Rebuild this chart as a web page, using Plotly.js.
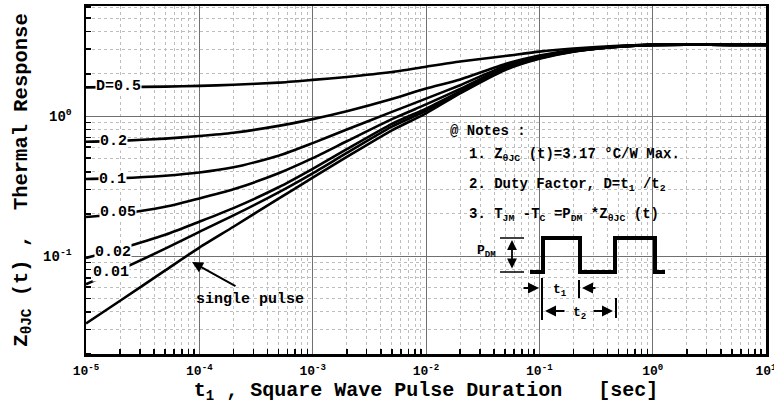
<!DOCTYPE html>
<html>
<head>
<meta charset="utf-8">
<script src="https://cdn.plot.ly/plotly-3.0.1.min.js"></script>
<style>html,body{margin:0;padding:0;background:#fff;}</style>
</head>
<body>
<div id="chart" style="width:774px;height:404px;"></div>
<script>
// ---- data ----
const pulseDuration = [1e-5, 2e-5, 5e-5, 1e-4, 2e-4, 5e-4, 1e-3, 2e-3, 5e-3, 1e-2, 2e-2, 5e-2, 0.1, 0.2, 0.5, 1, 2, 5, 10];
const dutyLabels = ['D=0.5', '0.2', '0.1', '0.05', '0.02', '0.01', 'single pulse'];
const zD05    = [1.60, 1.61, 1.62, 1.64, 1.67, 1.73, 1.81, 1.90, 2.06, 2.25, 2.45, 2.68, 2.88, 3.03, 3.17, 3.22, 3.24, 3.22, 3.22];
const zD02    = [0.655, 0.665, 0.69, 0.72, 0.76, 0.85, 0.95, 1.08, 1.32, 1.57, 1.82, 2.35, 2.70, 2.96, 3.15, 3.22, 3.23, 3.22, 3.22];
const zD01    = [0.355, 0.36, 0.375, 0.395, 0.43, 0.52, 0.64, 0.80, 1.07, 1.33, 1.66, 2.28, 2.66, 2.93, 3.14, 3.22, 3.23, 3.22, 3.22];
const zD005   = [0.19, 0.20, 0.225, 0.258, 0.30, 0.39, 0.50, 0.66, 0.95, 1.21, 1.56, 2.23, 2.63, 2.91, 3.13, 3.22, 3.23, 3.22, 3.22];
const zD002   = [0.097, 0.113, 0.142, 0.176, 0.22, 0.31, 0.42, 0.58, 0.88, 1.13, 1.50, 2.19, 2.60, 2.90, 3.13, 3.22, 3.23, 3.22, 3.22];
const zD001   = [0.063, 0.08, 0.113, 0.149, 0.195, 0.285, 0.39, 0.545, 0.84, 1.09, 1.47, 2.16, 2.58, 2.89, 3.12, 3.22, 3.23, 3.22, 3.22];
const zSingle = [0.033, 0.048, 0.079, 0.115, 0.162, 0.257, 0.363, 0.51, 0.79, 1.045, 1.45, 2.13, 2.56, 2.88, 3.12, 3.22, 3.23, 3.22, 3.22];
const xTickVals = [1e-5, 1e-4, 1e-3, 1e-2, 1e-1, 1, 10];
const xTickText = ['10<sup>-5</sup>', '10<sup>-4</sup>', '10<sup>-3</sup>', '10<sup>-2</sup>', '10<sup>-1</sup>', '10<sup>0</sup>', '10<sup>1</sup>'];
const yTickVals = [0.1, 1];
const yTickText = ['10<sup>-1</sup>', '10<sup>0</sup>'];

// ---- styling ----
const FONT = 'Liberation Mono, Courier New, monospace';
const tf = (s) => ({family: FONT, size: s, color: '#000', weight: 'bold'});

function minorVals(lo, hi) {
  const v = [];
  for (let e = lo; e <= hi; e++) for (let m = 2; m <= 9; m++) v.push(m * Math.pow(10, e));
  return v;
}

const series = [zD05, zD02, zD01, zD005, zD002, zD001, zSingle];
const traces = series.map((ys, i) => ({
  x: pulseDuration, y: ys, type: 'scatter', mode: 'lines', name: dutyLabels[i],
  line: {color: '#000', width: 2.6, shape: 'spline', smoothing: 0.6}, hoverinfo: 'skip'
}));

// pixel -> paper helpers for the schematic decorations
const L = 86, R = 766, T = 6, B = 354;
const px = (x) => (x - L) / (R - L);
const py = (y) => (B - y) / (B - T);

const shapes = [
  {type: 'path', xref: 'paper', yref: 'paper',
   path: `M${px(530)},${py(272)} L${px(543)},${py(272)} L${px(543)},${py(238)} L${px(580)},${py(238)} L${px(580)},${py(272)} L${px(615)},${py(272)} L${px(615)},${py(238)} L${px(655)},${py(238)} L${px(655)},${py(272)} L${px(665)},${py(272)}`,
   line: {color: '#000', width: 4}},
  {type: 'line', xref: 'paper', yref: 'paper', x0: px(500), x1: px(524), y0: py(238), y1: py(238), line: {color: '#000', width: 1.5}},
  {type: 'line', xref: 'paper', yref: 'paper', x0: px(500), x1: px(524), y0: py(272), y1: py(272), line: {color: '#000', width: 1.5}},
  {type: 'line', xref: 'paper', yref: 'paper', x0: px(542), x1: px(542), y0: py(278), y1: py(320), line: {color: '#000', width: 2}},
  {type: 'line', xref: 'paper', yref: 'paper', x0: px(579), x1: px(579), y0: py(280), y1: py(298), line: {color: '#000', width: 2}},
  {type: 'line', xref: 'paper', yref: 'paper', x0: px(616), x1: px(616), y0: py(298), y1: py(318), line: {color: '#000', width: 2}}
];

function lab(text, x, y, opts) {
  return Object.assign({text, xref: 'paper', yref: 'paper', x: px(x), y: py(y), showarrow: false,
    font: tf(14), xanchor: 'center', yanchor: 'middle'}, opts || {});
}
function arr(x, y, ax, ay, opts) {
  return Object.assign({text: '', xref: 'paper', yref: 'paper', x: px(x), y: py(y), ax, ay, showarrow: true,
    arrowhead: 2, arrowsize: 1.1, arrowwidth: 2, arrowcolor: '#000'}, opts || {});
}

const dl = {bgcolor: '#fff', borderpad: 0, font: tf(15)};
const annotations = [
  lab(dutyLabels[0], 118, 87, dl),
  lab(dutyLabels[1], 113, 141, dl),
  lab(dutyLabels[2], 112, 179, dl),
  lab(dutyLabels[3], 118, 212, dl),
  lab(dutyLabels[4], 113, 252, dl),
  lab(dutyLabels[5], 111, 272, dl),
  lab(dutyLabels[6], 250, 299, {font: tf(15)}),
  arr(192, 262, 45, 25),
  lab('@ Notes :', 448, 131, {xanchor: 'left'}),
  lab('1. Z<sub>\u03b8JC</sub> (t)=3.17 \u00b0C/W Max.', 467, 155, {xanchor: 'left'}),
  lab('2. Duty Factor, D=t<sub>1</sub> /t<sub>2</sub>', 467, 185, {xanchor: 'left'}),
  lab('3. T<sub>JM</sub> -T<sub>C</sub> =P<sub>DM</sub> *Z<sub>\u03b8JC</sub> (t)', 467, 215, {xanchor: 'left'}),
  lab('P<sub>DM</sub>', 486, 251, {font: tf(13)}),
  arr(512, 240, 0, 30, {arrowside: 'end+start', arrowwidth: 1.8}),
  lab('t<sub>1</sub>', 560, 290, {font: tf(13)}),
  lab('t<sub>2</sub>', 579, 313, {font: tf(13)}),
  arr(539, 288, -17, 0),
  arr(582, 288, 15, 0),
  arr(545, 311, 21, 0),
  arr(613, 311, -21, 0)
];

const layout = {
  width: 774, height: 404,
  margin: {l: L, r: 774 - R, t: T, b: 404 - B},
  paper_bgcolor: '#fff', plot_bgcolor: '#fff',
  showlegend: false,
  xaxis: {
    type: 'log', range: [-5, 1],
    tickmode: 'array', tickvals: xTickVals, ticktext: xTickText,
    ticks: '', tickfont: tf(13), ticklabelstandoff: 3, ticklabeloverflow: 'allow',
    showgrid: true, gridcolor: '#707070', gridwidth: 1,
    showline: true, linecolor: '#000', linewidth: 2.5, mirror: true,
    minor: {tickmode: 'array', tickvals: minorVals(-5, 0), ticks: 'inside', ticklen: 5, tickwidth: 1.5, tickcolor: '#000',
            showgrid: true, gridcolor: '#bdbdbd', gridwidth: 1, griddash: 'dot'},
    title: {text: 't<sub>1</sub> , Square Wave Pulse Duration \u00a0 [sec]', font: tf(20), standoff: 11}
  },
  yaxis: {
    type: 'log', range: [Math.log10(0.02), Math.log10(6.1)],
    tickmode: 'array', tickvals: yTickVals, ticktext: yTickText,
    ticks: '', tickfont: tf(14), ticklabelstandoff: 9,
    showgrid: true, gridcolor: '#707070', gridwidth: 1,
    showline: true, linecolor: '#000', linewidth: 2.5, mirror: true,
    minor: {tickmode: 'array', tickvals: minorVals(-2, 0), ticks: 'inside', ticklen: 5, tickwidth: 1.5, tickcolor: '#000',
            showgrid: true, gridcolor: '#bdbdbd', gridwidth: 1, griddash: 'dot'},
    title: {text: 'Z<sub>\u03b8JC</sub> (t) ,\u00a0 Thermal Response\u00a0\u00a0\u00a0', font: tf(20.5), standoff: 10}
  },
  shapes, annotations
};

Plotly.newPlot('chart', traces, layout, {staticPlot: true, displayModeBar: false});
</script>
</body>
</html>
